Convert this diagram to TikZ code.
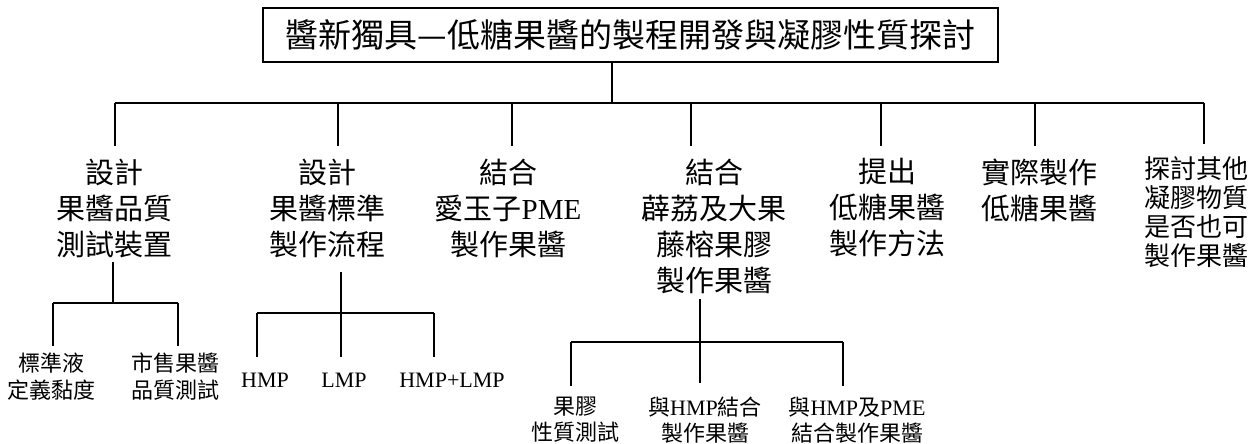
\documentclass[tikz,border=0pt]{standalone}
\usepackage{fontspec}
\setmainfont{Liberation Serif}
\newfontfamily\cjk{Noto Sans CJK TC}
\newcommand\lat[1]{{\rmfamily #1}}
\begin{document}
\begin{tikzpicture}[x=1pt,y=-1pt,
  tline/.style={line width=1.3pt},
  sline/.style={line width=2pt},
  titlebox/.style={draw, line width=1.6pt, minimum width=735pt, minimum height=54pt, inner sep=0pt, font=\cjk\fontsize{33}{40}\selectfont},
  lvone/.style={align=center, inner sep=0pt, font=\cjk\fontsize{29}{36}\selectfont},
  lvsmall/.style={align=center, inner sep=0pt, font=\cjk\fontsize{26}{29}\selectfont},
  lvtwo/.style={align=center, inner sep=0pt, font=\cjk\fontsize{22}{27}\selectfont},
  lvtwob/.style={align=center, inner sep=0pt, font=\cjk\fontsize{22}{26}\selectfont},
  latn/.style={inner sep=0pt, anchor=base, font=\rmfamily\fontsize{22}{26}\selectfont}
]
\useasboundingbox (0,0) rectangle (1258,444);
% title
\node[titlebox] (t) at (630.5,35) {醬新獨具—低糖果醬的製程開發與凝膠性質探討};
% level one
\node[lvone] (a1) at (114,208) {設計\\果醬品質\\測試裝置};
\node[lvone] (a2) at (327,208) {設計\\果醬標準\\製作流程};
\node[lvone] (a3) at (508,208) {結合\\愛玉子\lat{PME}\\製作果醬};
\node[lvone] (a4) at (714,226) {結合\\薜荔及大果\\藤榕果膠\\製作果醬};
\node[lvone] (a5) at (887,208) {提出\\低糖果醬\\製作方法};
\node[lvone] (a6) at (1039,190) {實際製作\\低糖果醬};
\node[lvsmall] (a7) at (1196,212) {探討其他\\凝膠物質\\是否也可\\製作果醬};
% level two
\node[lvtwo] (b11) at (52,376.5) {標準液\\定義黏度};
\node[lvtwo] (b12) at (175,376.5) {市售果醬\\品質測試};
\node[latn] (b21) at (265,387) {HMP};
\node[latn] (b22) at (344,387) {LMP};
\node[latn] (b23) at (452,387) {HMP+LMP};
\node[lvtwob] (b41) at (575,420) {果膠\\性質測試};
\node[lvtwob] (b42) at (705,420) {與\lat{HMP}結合\\製作果醬};
\node[lvtwob] (b43) at (857,420) {與\lat{HMP}及\lat{PME}\\結合製作果醬};
% bus
\coordinate (j0) at (612,103);
\coordinate (d1) at (115,103);
\coordinate (d2) at (338,103);
\coordinate (d3) at (512,103);
\coordinate (d4) at (691,103);
\coordinate (d5) at (881,103);
\coordinate (d6) at (1035,103);
\coordinate (d7) at (1204,103);
\draw[tline] (t.south -| j0) -- (j0);
\draw[tline] (d1) -- (d7);
\foreach \k in {1,...,7}{
  \draw[tline, shorten >=12pt] (d\k) -- (d\k |- a\k.north);
}
% subtree 1
\coordinate (s1) at (113,303);
\coordinate (s1l) at (53,303);
\coordinate (s1r) at (178,303);
\draw[sline, shorten <=4.5pt] (a1.south -| s1) -- (s1);
\draw[sline] (s1l) -- (s1r);
\draw[sline, shorten >=7pt] (s1l) -- (s1l |- b11.north);
\draw[sline, shorten >=7pt] (s1r) -- (s1r |- b12.north);
% subtree 2
\coordinate (s2) at (341,313);
\coordinate (s2l) at (257,313);
\coordinate (s2r) at (434,313);
\draw[sline, shorten <=14.5pt, shorten >=15pt] (a2.south -| s2) -- (s2 |- b22.north);
\draw[sline] (s2l) -- (s2r);
\draw[sline, shorten >=15pt] (s2l) -- (s2l |- b21.north);
\draw[sline, shorten >=15pt] (s2r) -- (s2r |- b23.north);
% subtree 4
\coordinate (s4) at (700,342);
\coordinate (s4l) at (571,342);
\coordinate (s4r) at (843,342);
\draw[sline, shorten <=5.5pt, shorten >=14pt] (a4.south -| s4) -- (s4 |- b42.north);
\draw[sline] (s4l) -- (s4r);
\draw[sline, shorten >=11pt] (s4l) -- (s4l |- b41.north);
\draw[sline, shorten >=11pt] (s4r) -- (s4r |- b43.north);
\end{tikzpicture}
\end{document}
